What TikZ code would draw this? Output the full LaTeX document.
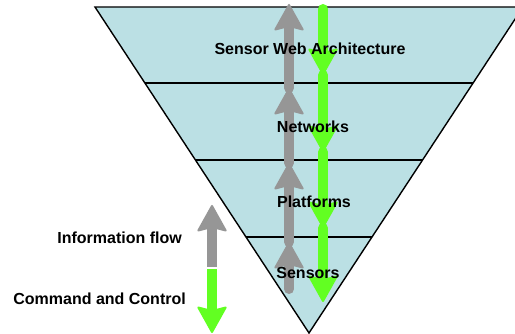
\documentclass[tikz,border=0pt]{standalone}
\usepackage{fontspec}
\setmainfont{Liberation Sans}
\usetikzlibrary{arrows.meta,calc}
\definecolor{layerblue}{RGB}{187,224,228}
\definecolor{infogray}{RGB}{150,150,150}
\definecolor{cmdgreen}{RGB}{98,255,34}

\begin{document}
\begin{tikzpicture}[x=1pt,y=-1pt,font=\fontsize{16}{18}\selectfont\bfseries]
  \tikzstyle{flow}=[line width=10pt,line cap=round,-{Stealth[width=31pt,length=28pt,inset=4pt,round,line width=2pt]}]
  \tikzstyle{info}=[flow,draw=infogray]
  \tikzstyle{cmd}=[flow,draw=cmdgreen]
  \tikzstyle{layer}=[inner sep=1pt]
  \useasboundingbox (0,0) rectangle (515,334);
  \clip (0,0) rectangle (515,334);
  \coordinate (tl) at (95,7);
  \coordinate (tr) at (523,7);
  \coordinate (apex) at (309,333);
  \filldraw[fill=layerblue,line width=1.4pt] (tl) -- (tr) -- (apex) -- cycle;
  \foreach \f/\n in {0.233/a,0.469/b,0.706/c}
    \draw[line width=1.4pt] ($(tl)!\f!(apex)$) -- ($(tr)!\f!(apex)$);
  \coordinate (i0) at (289,289);
  \coordinate (i1) at (289,242);
  \coordinate (i2) at (289,163);
  \coordinate (i3) at (289,88);
  \coordinate (i4) at (289,4);
  \coordinate (c0) at (323,9);
  \coordinate (c1) at (323,75);
  \coordinate (c2) at (323,152);
  \coordinate (c3) at (323,228);
  \coordinate (c4) at (323,302);
  \foreach \a/\b in {i0/i1,i1/i2,i2/i3,i3/i4}
    \draw[info] (\a) -- (\b);
  \foreach \a/\b in {c0/c1,c1/c2,c2/c3,c3/c4}
    \draw[cmd] (\a) -- (\b);
  \node[layer] (arch) at (310,49) {Sensor Web Architecture};
  \node[layer] (net) at (313,127) {Networks};
  \node[layer] (plat) at (314,202) {Platforms};
  \node[layer] (sens) at (308,273) {Sensors};
  \coordinate (info bottom) at (212,267);
  \coordinate (info top) at (212,205);
  \coordinate (cmd top) at (212,269);
  \coordinate (cmd bottom) at (212,333);
  \draw[info,line cap=butt] (info bottom) -- (info top);
  \draw[cmd,line cap=butt] (cmd top) -- (cmd bottom);
  \node[layer,anchor=east] (infolabel) at (183,238) {Information flow};
  \node[layer,anchor=east] (cmdlabel) at (187,299) {Command and Control};
\end{tikzpicture}
\end{document}
